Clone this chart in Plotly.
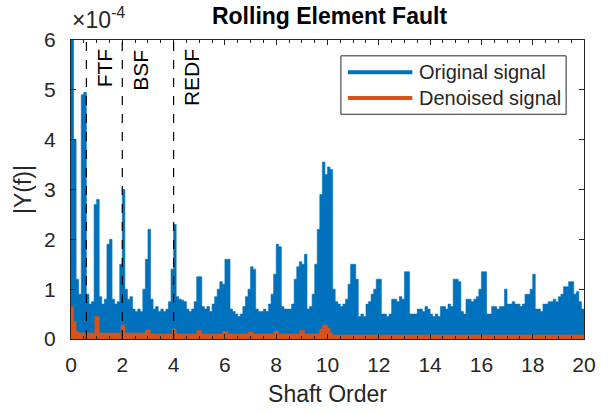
import numpy as np
import plotly.graph_objects as go

# Shaft-order axis (step 0.1) and upper envelope of the original spectrum (x1e-4)
orders = [round(0.1 * i, 1) for i in range(201)]
original_amp = [
    6.2, 4.0, 1.2, 0.9, 4.9, 4.95, 0.9, 0.7, 0.75, 2.7,
    2.8, 0.85, 0.7, 0.8, 1.9, 2.0, 0.8, 0.7, 0.75, 1.5,
    3.0, 1.0, 0.8, 0.85, 0.6, 0.55, 0.6, 0.55, 1.0, 1.6,
    2.2, 0.8, 0.6, 0.65, 0.55, 0.6, 0.55, 0.6, 0.75, 1.4,
    2.3, 0.85, 0.8, 0.78, 0.75, 0.6, 0.55, 0.6, 0.75, 1.25,
    1.25, 0.65, 0.6, 0.65, 0.55, 0.7, 0.85, 1.0, 1.15, 1.1,
    1.6, 1.6, 0.6, 0.55, 0.5, 0.45, 0.5, 0.65, 0.85, 1.0,
    1.45, 1.4, 0.6, 0.55, 0.55, 0.6, 0.55, 0.7, 0.9, 1.3,
    1.9, 1.85, 0.65, 0.6, 0.6, 0.6, 0.7, 1.2, 1.45, 1.55,
    1.5, 1.7, 0.6, 0.65, 0.9, 1.5, 2.2, 2.9, 3.55, 3.3,
    3.45, 3.4, 1.0, 0.75, 0.7, 0.65, 0.7, 0.8, 1.1, 1.5,
    1.5, 1.2, 0.45, 0.5, 0.45, 0.7, 0.75, 0.9, 1.0, 1.2,
    1.2, 0.5, 0.5, 0.45, 0.5, 0.8, 0.8, 0.75, 0.85, 0.8,
    1.35, 1.35, 0.5, 0.5, 0.5, 0.6, 0.6, 0.55, 0.65, 0.6,
    0.5, 0.45, 0.5, 0.45, 0.65, 0.65, 0.6, 0.7, 0.65, 1.2,
    1.2, 1.15, 0.55, 0.5, 0.8, 0.8, 0.75, 0.8, 0.85, 1.0,
    1.35, 1.35, 0.5, 0.5, 0.65, 0.65, 0.6, 0.65, 0.65, 1.0,
    0.7, 0.7, 0.75, 0.7, 0.7, 0.65, 0.7, 0.9, 0.9, 1.0,
    1.3, 0.6, 0.6, 0.55, 0.7, 0.7, 0.75, 0.75, 0.8, 0.75,
    0.85, 0.9, 1.05, 1.05, 1.15, 1.15, 0.9, 0.95, 0.75, 0.6,
    0.6,
]

# Denoised spectrum breakpoints (x1e-4)
denoised_orders = [0.0, 0.1, 0.2, 0.3, 0.93, 1.1, 1.95, 2.1, 2.9, 3.1, 3.95, 4.1,
                   4.9, 5.1, 5.9, 6.1, 6.9, 7.1, 7.9, 8.1, 8.9, 9.1, 9.7, 9.8,
                   10.0, 10.1, 10.2, 20.0]
denoised_amp = [0.65, 0.35, 0.15, 0.12, 0.45, 0.12, 0.28, 0.12, 0.18, 0.1, 0.2, 0.1,
                0.17, 0.1, 0.15, 0.1, 0.14, 0.1, 0.15, 0.1, 0.17, 0.1, 0.2, 0.28,
                0.22, 0.12, 0.08, 0.08]

fault_orders = [0.6, 2.0, 4.0]
fault_labels = ["FTF", "BSF", "REDF"]

x_ticks = list(range(0, 21, 2))
y_ticks = list(range(0, 7))

BLUE = "#0072BD"
ORANGE = "#D95319"
AXC = "#262626"
FONT = "Liberation Sans, Arial, sans-serif"

fig = go.Figure()
fig.add_trace(go.Scatter(
    x=orders, y=original_amp, mode="lines", line=dict(color=BLUE, width=0.6, shape="hv"),
    fill="tozeroy", fillcolor=BLUE, name="Original signal", showlegend=False))
fig.add_trace(go.Scatter(
    x=denoised_orders, y=denoised_amp, mode="lines", line=dict(color=ORANGE, width=0.6, shape="hv"),
    fill="tozeroy", fillcolor=ORANGE, name="Denoised signal", showlegend=False))

for xo, lab in zip(fault_orders, fault_labels):
    fig.add_shape(type="line", xref="x", yref="paper", x0=xo, x1=xo, y0=0, y1=1,
                  line=dict(color="black", width=1.2, dash="dash"))
    fig.add_annotation(x=xo, y=5.85, xref="x", yref="y", text=lab, textangle=-90,
                       showarrow=False, xanchor="left", yanchor="top", xshift=5,
                       font=dict(family=FONT, size=21, color="black"))

# Custom MATLAB-style legend
def px_x(p):
    return (p - 71) / 517.0

def px_y(p):
    return (342 - p) / 302.0

fig.add_shape(type="rect", xref="paper", yref="paper", x0=px_x(343), x1=px_x(570),
              y0=px_y(115), y1=px_y(56), line=dict(color=AXC, width=1), fillcolor="white", layer="above")
for py, col, txt in [(72.5, BLUE, "Original signal"), (98.5, ORANGE, "Denoised signal")]:
    fig.add_shape(type="line", xref="paper", yref="paper", x0=px_x(350), x1=px_x(415),
                  y0=px_y(py), y1=px_y(py), line=dict(color=col, width=4), layer="above")
    fig.add_annotation(x=px_x(420), y=px_y(py), xref="paper", yref="paper", text=txt,
                       showarrow=False, xanchor="left", yanchor="middle",
                       font=dict(family=FONT, size=20, color=AXC))

fig.add_annotation(x=px_x(71), y=px_y(18), xref="paper", yref="paper",
                   text="×10<sup>-4</sup>", showarrow=False, xanchor="left", yanchor="middle",
                   borderpad=0, font=dict(family=FONT, size=23, color=AXC))

axis_common = dict(showline=True, linecolor=AXC, linewidth=1, mirror="ticks",
                   ticks="inside", ticklen=5, tickcolor=AXC, tickwidth=1,
                   showgrid=False, zeroline=False,
                   tickfont=dict(family=FONT, size=21, color=AXC))

fig.update_xaxes(range=[0, 20], tickvals=x_ticks, ticktext=[str(v) for v in x_ticks],
                 minor=dict(dtick=0.5, ticks="inside", ticklen=3, tickcolor=AXC, showgrid=False),
                 ticklabelstandoff=7,
                 title=dict(text="Shaft Order", font=dict(family=FONT, size=23, color=AXC), standoff=10),
                 **axis_common)
fig.update_yaxes(range=[0, 6], tickvals=y_ticks, ticktext=[str(v) for v in y_ticks],
                 ticklabelstandoff=10,
                 title=dict(text="|Y(f)|", font=dict(family=FONT, size=23, color=AXC), standoff=6),
                 **axis_common)

fig.update_layout(
    width=608, height=414,
    margin=dict(l=71, r=20, t=40, b=72),
    paper_bgcolor="white", plot_bgcolor="white",
    title=dict(text="<b>Rolling Element Fault</b>", x=(71 + 588) / 2 / 608, xanchor="center",
               y=1 - 16 / 414, yanchor="middle",
               font=dict(family=FONT, size=23, color="black")),
)

fig.write_html("out.html")
